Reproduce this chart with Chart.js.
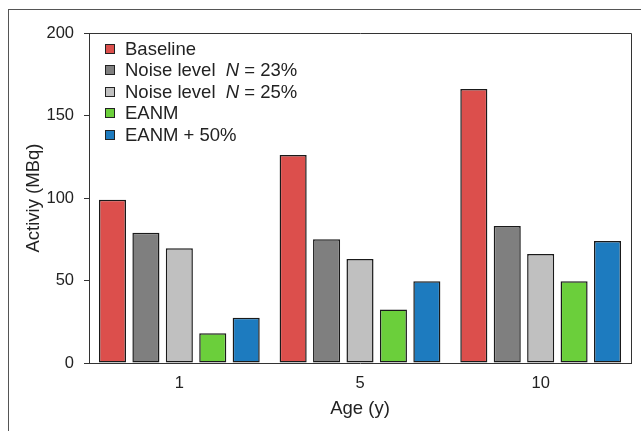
<!DOCTYPE html>
<html lang="en">

<head>
    <meta charset="UTF-8">
    <title>Activity by age</title>
    <script src="https://cdn.jsdelivr.net/npm/chart.js"></script>
    <style>
        body { margin: 0; background: #fff; font-family: "Liberation Sans", Arial, sans-serif; }
        #wrap { position: relative; width: 641px; height: 431px; }
        #legend { position: absolute; left: 105px; top: 38px; list-style: none; margin: 0; padding: 0; }
        #legend li { height: 21.4px; line-height: 21.4px; font-size: 18.5px; color: #222; white-space: pre; }
        #legend span.box { display: inline-block; width: 8px; height: 8px; border: 1px solid #222;
            margin-right: 10px; vertical-align: 1px; }
    </style>
    <script>
        // values
        const ages = ['1', '5', '10'];
        const baseline = [99, 126, 166];
        const noise23 = [79, 75, 83];
        const noise25 = [69.5, 63, 66];
        const eanm = [18, 32.5, 49.5];
        const eanm50 = [27.5, 49.5, 74];

        const seriesNames = ['Baseline', 'Noise level  <i>N</i> = 23%', 'Noise level  <i>N</i> = 25%', 'EANM', 'EANM + 50%'];
        const colors = ['#dc4f4c', '#7f7f7f', '#c0c0c0', '#6bcf3b', '#1d7bbf'];

        // outer frame of the figure + box around the plot
        const framePlugin = {
            id: 'frame',
            afterDraw(chart) {
                const ctx = chart.ctx;
                const a = chart.chartArea;
                ctx.save();
                ctx.strokeStyle = '#555';
                ctx.lineWidth = 1;
                ctx.strokeRect(8.5, 9.5, 700, 600);
                ctx.strokeStyle = '#333';
                ctx.beginPath();
                ctx.moveTo(Math.round(a.left) + 0.5, Math.round(a.top) + 0.5);
                ctx.lineTo(Math.round(a.right) + 0.5, Math.round(a.top) + 0.5);
                ctx.lineTo(Math.round(a.right) + 0.5, Math.round(a.bottom) + 0.5);
                ctx.stroke();
                ctx.restore();
            }
        };

        // html legend so that N can be italic
        const htmlLegend = {
            id: 'htmlLegend',
            afterUpdate(chart) {
                const ul = document.getElementById('legend');
                ul.innerHTML = '';
                chart.data.datasets.forEach((ds, i) => {
                    const li = document.createElement('li');
                    li.innerHTML = '<span class="box" style="background:' + ds.backgroundColor + '"></span>' + seriesNames[i];
                    ul.appendChild(li);
                });
            }
        };

        function createChart() {
            const data = [baseline, noise23, noise25, eanm, eanm50];
            const ctx = document.getElementById('myChart').getContext('2d');
            Chart.defaults.font.family = '"Liberation Sans", Arial, sans-serif';
            Chart.defaults.color = '#222';
            new Chart(ctx, {
                type: 'bar',
                data: {
                    labels: ages,
                    datasets: data.map((d, i) => ({
                        label: seriesNames[i].replace(/<\/?i>/g, ''),
                        data: d,
                        backgroundColor: colors[i],
                        borderColor: '#1a1a1a',
                        borderWidth: 1.5,
                        borderSkipped: false,
                        categoryPercentage: 0.925,
                        barPercentage: 0.81
                    }))
                },
                options: {
                    responsive: false,
                    animation: false,
                    layout: { padding: { left: 0, top: 33, right: 10, bottom: 0 } },
                    plugins: {
                        legend: { display: false },
                        tooltip: { enabled: false }
                    },
                    scales: {
                        x: {
                            grid: { display: false, drawTicks: false },
                            border: { display: true, color: '#333', width: 1 },
                            ticks: { font: { size: 16.5 }, padding: 11, color: '#222' },
                            title: { display: true, text: 'Age (y)', font: { size: 18.5 }, padding: { top: 0, bottom: 11 }, color: '#222' },
                            afterFit: s => { s.height = 68; }
                        },
                        y: {
                            min: 0,
                            max: 200,
                            ticks: { stepSize: 50, font: { size: 16.5 }, padding: 10, color: '#222' },
                            grid: { drawOnChartArea: false, drawTicks: true, tickLength: 5, color: '#333' },
                            border: { display: true, color: '#333', width: 1 },
                            title: { display: true, text: 'Activiy (MBq)', font: { size: 18.5 }, padding: { top: 23, bottom: 0 }, color: '#222' },
                            afterFit: s => { s.width = 89; }
                        }
                    }
                },
                plugins: [framePlugin, htmlLegend]
            });
        }

        document.addEventListener('DOMContentLoaded', createChart);
    </script>
</head>

<body>
    <div id="wrap">
        <canvas id="myChart" width="641" height="431"></canvas>
        <ul id="legend"></ul>
    </div>
</body>

</html>
